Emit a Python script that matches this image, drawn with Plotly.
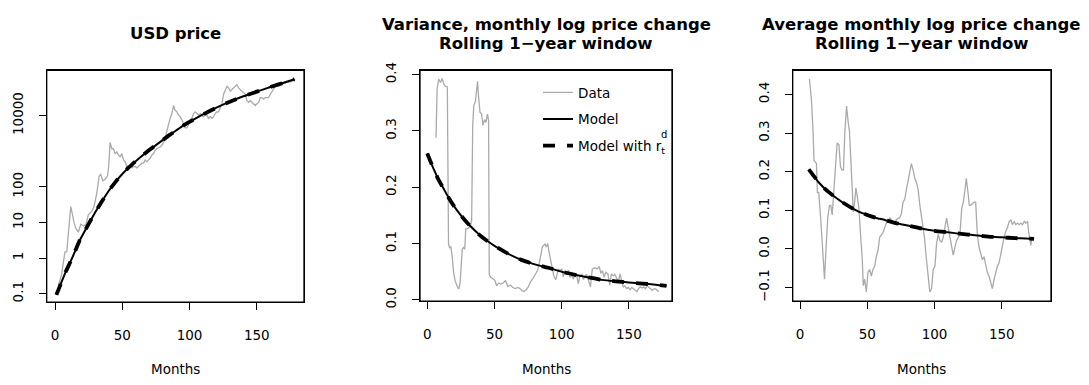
import plotly.graph_objects as go

# ---------------- USD price (log scale) ----------------
price_months = [1, 2, 3, 5, 6, 7.4, 8.7, 9.9, 11.7, 13.2, 14.1, 15.6, 17.4, 19.1, 21.1, 23.1,
                24.8, 27.3, 29.0, 31.0, 32.8, 34.0, 35.5, 37.2, 39.0, 40.0, 40.9, 42.2, 43.4,
                44.7, 45.9, 47.1, 48.4, 49.6, 50.9, 52.1, 53.3, 54.6, 55.8, 57.1, 58.3, 59.6,
                60.8, 62.0, 63.3, 64.5, 65.8, 67.0, 68.2, 70.7, 72.0, 73.2, 74.4, 75.7, 77.7,
                79.4, 80.6, 81.9, 83.1, 84.4, 85.6, 86.8, 88.1, 89.3, 90.6, 91.8, 93.1, 94.3,
                95.5, 96.8, 98.0, 99.3, 100.5, 101.8, 103.0, 104.2, 105.5, 106.7, 108.0, 109.2,
                110.4, 111.7, 112.9, 114.1, 115.4, 116.6, 117.9, 119.1, 120.3, 121.6, 122.8,
                124.1, 125.3, 126.6, 127.8, 129.0, 130.3, 131.5, 132.8, 134.0, 135.2, 136.5,
                137.7, 139.0, 140.2, 141.4, 142.7, 143.9, 145.2, 146.4, 147.6, 148.9, 150.1,
                151.4, 152.6, 153.8, 155.1, 156.3, 157.6, 158.8, 160.0, 161.3, 162.5, 163.8,
                165.0, 166.2, 167.5, 168.7, 169.9, 171.2, 172.4, 173.7, 174.9, 176.1, 177.4,
                178.6]
price_usd = [0.1, 0.11, 0.2, 0.36, 0.7, 1.5, 1.5, 4.4, 28, 15, 10, 6.6, 5.4, 8.9, 8.1, 8.9,
             16.6, 20.4, 28, 65, 200, 222, 148, 163, 200, 417, 1770, 1170, 1170,
             855, 950, 776, 698, 855, 566, 510, 372, 372, 372, 340, 372, 372,
             340, 372, 417, 460, 460, 566, 510, 630, 776, 855, 1050, 1170, 1290,
             1440, 1770, 2180, 3640, 6140, 8360, 11400, 19100, 14000, 12700, 10300, 9330, 7560,
             5530, 4480, 4480, 5530, 7560, 8360, 11400, 12700, 11400, 10300, 11400, 10300,
             9330, 10300, 10300, 8360, 9330, 8360, 9330, 11400, 12700, 12700, 15600,
             21400, 39600, 53700, 66000, 59500, 48500, 53700, 59500, 66000, 73000, 59500,
             53700, 48500, 43800, 39600, 26000, 23400, 26000, 23400, 21400, 19100, 21400,
             23400, 32000, 32000, 29000, 32000, 32000, 32000, 39600, 48500, 59500, 66000,
             73000, 66000, 73000, 73000, 81000, 81000, 90000, 86000, 90000, 90000, 100000,
             100000]

price_model_months = [1, 2, 4, 6, 8, 10, 12, 15, 18, 21, 25, 30, 35, 40, 45, 50, 55, 60, 65,
                      70, 75, 80, 85, 90, 95, 100, 110, 120, 130, 140, 150, 160, 170, 178]
price_model = [0.093, 0.115, 0.178, 0.275, 0.417, 0.603, 0.871, 1.585, 2.95, 4.79, 9.12,
               19.5, 39.8, 77.6, 138, 229, 355, 525, 759, 1072, 1479, 2042, 2818, 3802,
               5129, 6607, 10715, 16596, 24547, 34674, 46774, 63096, 83176, 104000]

# ---------------- Variance, rolling 1-year window ----------------
var_months = [6.5, 7.3, 8.5, 9.8, 11.1, 12.3, 13.7, 14.9, 15.8, 16.6, 17.5, 18.5, 19.5, 20.6,
              21.8, 22.8, 23.6, 24.4, 25.2, 26.0, 27.0, 27.9, 28.6, 30.4, 31.8, 33.0, 33.8,
              34.6, 35.8, 36.8, 37.4, 38.2, 39.2, 40.4, 41.4, 42.6, 43.6, 44.8, 45.6, 46.1,
              47.2, 48.6, 50.2, 51.6, 53.0, 54.6, 56.4, 58.2, 60.0, 62.0, 63.6, 65.4, 67.4,
              69.0, 70.6, 72.0, 73.6, 75.4, 76.8, 78.6, 80.6, 82.0, 83.4, 84.6, 85.6, 86.6,
              87.6, 88.6, 89.6, 90.6, 91.8, 93.0, 94.2, 95.6, 96.8, 97.6, 98.8, 100.0, 101.2,
              102.4, 103.6, 105.0, 106.2, 107.4, 108.6, 110.0, 111.2, 112.4, 113.6, 115.0,
              116.2, 117.4, 118.6, 120.0, 121.4, 122.8, 124.6, 126.4, 128.0, 129.2, 130.4,
              131.6, 132.8, 134.4, 135.8, 137.0, 138.4, 139.6, 140.8, 142.2, 143.4, 144.6,
              145.8, 147.0, 148.4, 149.6, 151.0, 152.2, 153.4, 154.6, 156.0, 157.2, 158.4,
              159.8, 161.0, 162.4, 163.6, 165.0, 166.4, 167.6, 168.8, 170.2, 171.4, 172.4]
var_data = [0.288, 0.375, 0.392, 0.386, 0.393, 0.383, 0.379, 0.378, 0.100, 0.092, 0.095,
            0.078, 0.050, 0.035, 0.027, 0.021, 0.020, 0.030, 0.060, 0.090, 0.093, 0.090,
            0.126, 0.127, 0.130, 0.140, 0.310, 0.345, 0.352, 0.372, 0.388, 0.360, 0.333,
            0.330, 0.310, 0.320, 0.315, 0.330, 0.318, 0.045, 0.040, 0.038, 0.035, 0.025,
            0.030, 0.028, 0.030, 0.034, 0.024, 0.026, 0.022, 0.020, 0.022, 0.020, 0.016,
            0.015, 0.018, 0.024, 0.032, 0.038, 0.048, 0.052, 0.066, 0.080, 0.094, 0.097,
            0.099, 0.094, 0.100, 0.085, 0.070, 0.057, 0.042, 0.036, 0.045, 0.055, 0.052,
            0.055, 0.041, 0.052, 0.044, 0.053, 0.040, 0.044, 0.037, 0.046, 0.043, 0.029,
            0.043, 0.045, 0.036, 0.043, 0.045, 0.035, 0.023, 0.055, 0.057, 0.055, 0.059,
            0.047, 0.052, 0.040, 0.049, 0.046, 0.026, 0.046, 0.043, 0.045, 0.038, 0.032,
            0.046, 0.034, 0.023, 0.025, 0.020, 0.022, 0.018, 0.022, 0.020, 0.017, 0.015,
            0.020, 0.023, 0.021, 0.023, 0.020, 0.025, 0.022, 0.020, 0.017, 0.020, 0.019,
            0.016, 0.015]

var_model_months = [0, 2, 5, 8, 12, 16, 20, 25, 30, 35, 40, 45, 50, 60, 70, 80, 90, 100,
                    110, 120, 130, 140, 150, 160, 170, 178]
var_model = [0.260, 0.248, 0.231, 0.215, 0.198, 0.181, 0.166, 0.150, 0.136, 0.124, 0.113,
             0.104, 0.096, 0.082, 0.071, 0.063, 0.057, 0.050, 0.0445, 0.040, 0.0355, 0.033,
             0.031, 0.029, 0.027, 0.025]

# ---------------- Mean, rolling 1-year window ----------------
mean_months = [7.0, 8.5, 9.7, 10.4, 11.4, 12.2, 12.9, 13.9, 15.2, 16.4, 17.7, 18.2, 19.4,
               20.6, 21.9, 22.9, 23.9, 25.1, 26.4, 27.6, 28.9, 30.1, 31.3, 32.3, 33.3, 34.6,
               35.8, 36.8, 37.8, 38.8, 39.6, 40.6, 41.5, 42.5, 43.8, 45.0, 46.3, 47.0, 48.0,
               49.3, 50.5, 51.7, 53.0, 54.2, 55.5, 56.7, 58.0, 59.2, 60.5, 61.7, 62.9, 64.2,
               65.4, 66.7, 67.9, 69.2, 70.4, 71.6, 72.9, 74.1, 75.4, 76.6, 77.9, 79.1, 80.4,
               81.6, 82.8, 84.1, 85.3, 86.6, 87.8, 89.1, 90.3, 92.5, 94.0, 95.3, 96.5, 97.8,
               99.0, 100.3, 101.5, 102.7, 104.0, 105.2, 106.5, 107.7, 109.0, 110.2, 111.4,
               112.7, 113.9, 115.2, 116.4, 117.7, 118.9, 120.2, 121.4, 122.7, 123.6, 124.9,
               125.9, 126.9, 128.1, 129.4, 130.6, 131.8, 133.1, 134.3, 135.6, 136.8, 138.1,
               139.3, 140.5, 141.8, 143.0, 144.3, 145.5, 146.7, 148.0, 149.3, 150.5, 151.7,
               153.0, 154.2, 155.5, 156.7, 157.9, 159.2, 160.4, 161.7, 162.9, 164.2, 165.4,
               166.7, 167.9, 169.2, 169.9, 170.9, 171.6, 172.4]
mean_data = [0.440, 0.386, 0.303, 0.229, 0.225, 0.221, 0.146, 0.146, 0.088, 0.013, -0.061,
             -0.078, 0.005, 0.080, 0.113, 0.113, 0.088, 0.154, 0.229, 0.274, 0.270, 0.212,
             0.204, 0.204, 0.303, 0.370, 0.328, 0.303, 0.229, 0.163, 0.096, 0.121, 0.158,
             0.138, 0.104, 0.038, -0.028, -0.095, -0.078, -0.111, -0.061, -0.053, -0.070,
             -0.053, -0.045, -0.020, -0.003, 0.030, 0.038, 0.042, 0.055, 0.067, 0.071, 0.080,
             0.075, 0.071, 0.067, 0.075, 0.080, 0.080, 0.092, 0.121, 0.129, 0.154, 0.175,
             0.196, 0.221, 0.204, 0.183, 0.171, 0.154, 0.113, 0.080, 0.030, -0.028, -0.070,
             -0.111, -0.103, -0.053, -0.045, 0.013, 0.038, 0.022, 0.017, 0.030, 0.055, 0.080,
             0.055, 0.030, 0.013, -0.016, 0.005, 0.022, 0.030, 0.038, 0.104, 0.121, 0.154,
             0.183, 0.146, 0.113, 0.113, 0.117, 0.121, 0.121, 0.038, 0.005, -0.012, -0.028,
             -0.020, -0.045, -0.061, -0.070, -0.086, -0.103, -0.078, -0.061, -0.045, -0.036,
             -0.012, 0.013, 0.030, 0.046, 0.055, 0.071, 0.075, 0.063, 0.071, 0.063, 0.067,
             0.063, 0.067, 0.063, 0.071, 0.067, 0.071, 0.046, 0.017, 0.009, 0.030]

mean_model_months = [6.5, 10, 14, 19, 25, 31, 38, 44, 50, 56, 63, 69, 75, 81, 90, 100, 110,
                     120, 130, 140, 150, 160, 168, 174]
mean_model = [0.206, 0.190, 0.172, 0.154, 0.137, 0.122, 0.107, 0.096, 0.088, 0.081, 0.075,
              0.069, 0.064, 0.060, 0.053, 0.047, 0.043, 0.039, 0.0355, 0.032, 0.030, 0.028,
              0.027, 0.026]

x_ticks = [0, 50, 100, 150]
price_ticks = [0.1, 1, 10, 100, 10000]
price_ticktext = ["0.1", "1", "10", "100", "10000"]
price_unlabelled_ticks = [1000, 100000]
var_ticks = [0.0, 0.1, 0.2, 0.3, 0.4]
var_ticktext = ["0.0", "0.1", "0.2", "0.3", "0.4"]
mean_ticks = [-0.1, 0.0, 0.1, 0.2, 0.3, 0.4]
mean_ticktext = ["\u22120.1", "0.0", "0.1", "0.2", "0.3", "0.4"]

titles = [["USD price"],
          ["Variance, monthly log price change", "Rolling 1\u2212year window"],
          ["Average monthly log price change", "Rolling 1\u2212year window"]]
legend_names = ["Data", "Model", "Model with r<sub>t</sub>"]

W, H = 1089, 385
FONT = "DejaVu Sans, Verdana, sans-serif"
GRAY = "#AAAAAA"
TEXT_SIZE = 13.5
TITLE_SIZE = 16.5

fig = go.Figure()

panels = [
    ("x", "y", price_months, price_usd, price_model_months, price_model),
    ("x2", "y2", var_months, var_data, var_model_months, var_model),
    ("x3", "y3", mean_months, mean_data, mean_model_months, mean_model),
]
for i, (xa, ya, dx, dy, mx, my) in enumerate(panels):
    show = (i == 1)
    fig.add_trace(go.Scatter(x=dx, y=dy, xaxis=xa, yaxis=ya, mode="lines",
                             line=dict(color=GRAY, width=1.3), name=legend_names[0],
                             legendgroup="a", showlegend=show))
    fig.add_trace(go.Scatter(x=mx, y=my, xaxis=xa, yaxis=ya, mode="lines",
                             line=dict(color="black", width=2, shape="spline", smoothing=0.6),
                             name=legend_names[1], legendgroup="b", showlegend=show))
    fig.add_trace(go.Scatter(x=mx, y=my, xaxis=xa, yaxis=ya, mode="lines",
                             line=dict(color="black", width=3.8, dash="12px,12px",
                                       shape="spline", smoothing=0.6),
                             name=legend_names[2], legendgroup="c", showlegend=show))


def px_x(p):
    return p / W


def px_y(p):
    return 1 - p / H


axis_common = dict(showline=True, linecolor="black", linewidth=1.3, mirror=True,
                   ticks="outside", ticklen=7, tickwidth=1.2, tickcolor="black",
                   showgrid=False, zeroline=False,
                   tickfont=dict(family=FONT, size=TEXT_SIZE, color="black"))

boxes = [(46.7, 304.0, 65, 306), (420.0, 672.0, 65, 305), (792.7, 1051.0, 65, 305)]
price_range = [-1.235, 5.265]

fig.update_layout(
    width=W, height=H,
    margin=dict(l=0, r=0, t=0, b=0),
    paper_bgcolor="white", plot_bgcolor="white",
    font=dict(family=FONT, color="black"),
    xaxis=dict(domain=[px_x(boxes[0][0]), px_x(boxes[0][1])], range=[-6.2, 185.1],
               tickvals=x_ticks, anchor="y", ticklabelstandoff=14, **axis_common),
    yaxis=dict(domain=[px_y(boxes[0][3]), px_y(boxes[0][2])], type="log",
               range=price_range, tickvals=price_ticks, ticktext=price_ticktext,
               tickangle=-90, anchor="x", ticklabelstandoff=10, **axis_common),
    # unlabelled decade ticks of the price axis
    yaxis4=dict(overlaying="y", anchor="x", side="left", type="log", range=price_range,
                tickvals=price_unlabelled_ticks, showticklabels=False, ticks="outside",
                ticklen=7, tickwidth=1.2, tickcolor="black", showline=False,
                showgrid=False, zeroline=False),
    xaxis2=dict(domain=[px_x(boxes[1][0]), px_x(boxes[1][1])], range=[-5.43, 182.1],
                tickvals=x_ticks, anchor="y2", ticklabelstandoff=14, **axis_common),
    yaxis2=dict(domain=[px_y(boxes[1][3]), px_y(boxes[1][2])], range=[-0.0022, 0.4073],
                tickvals=var_ticks, ticktext=var_ticktext, tickangle=-90, anchor="x2",
                ticklabelstandoff=10, **axis_common),
    xaxis3=dict(domain=[px_x(boxes[2][0]), px_x(boxes[2][1])], range=[-5.45, 186.6],
                tickvals=x_ticks, anchor="y3", ticklabelstandoff=14, **axis_common),
    yaxis3=dict(domain=[px_y(boxes[2][3]), px_y(boxes[2][2])], range=[-0.135, 0.462],
                tickvals=mean_ticks, ticktext=mean_ticktext, tickangle=-90, anchor="x3",
                ticklabelstandoff=10, **axis_common),
    legend=dict(x=px_x(538), y=px_y(72), xanchor="left", yanchor="top",
                bgcolor="rgba(0,0,0,0)", borderwidth=0, tracegroupgap=6,
                font=dict(family=FONT, size=TEXT_SIZE, color="black")),
    showlegend=True,
)

# frame around each plotting region
shapes = []
for xa, ya in (("x", "y"), ("x2", "y2"), ("x3", "y3")):
    shapes.append(dict(type="rect", xref=xa + " domain", yref=ya + " domain",
                       x0=0, x1=1, y0=0, y1=1, line=dict(color="black", width=1.3),
                       fillcolor="rgba(0,0,0,0)", layer="above"))
fig.update_layout(shapes=shapes)

annotations = []
for (x0, x1, _, _), lines in zip(boxes, titles):
    cx = (x0 + x1) / 2
    centres = [26.7] if len(lines) == 1 else [16.7, 36.7]
    for text, cy in zip(lines, centres):
        annotations.append(dict(text="<b>" + text + "</b>", x=px_x(cx), y=px_y(cy),
                                xref="paper", yref="paper", xanchor="center",
                                yanchor="middle", showarrow=False,
                                font=dict(family=FONT, size=TITLE_SIZE, color="black")))
    annotations.append(dict(text="Months", x=px_x(cx), y=px_y(376), xref="paper",
                            yref="paper", xanchor="center", yanchor="middle",
                            showarrow=False,
                            font=dict(family=FONT, size=TEXT_SIZE, color="black")))
# superscript d of r_t^d in the legend
annotations.append(dict(text="d", x=px_x(663.5), y=px_y(132), xref="paper", yref="paper",
                        xanchor="center", yanchor="middle", showarrow=False,
                        font=dict(family=FONT, size=10, color="black")))
fig.update_layout(annotations=annotations)

fig.write_html("out.html")
